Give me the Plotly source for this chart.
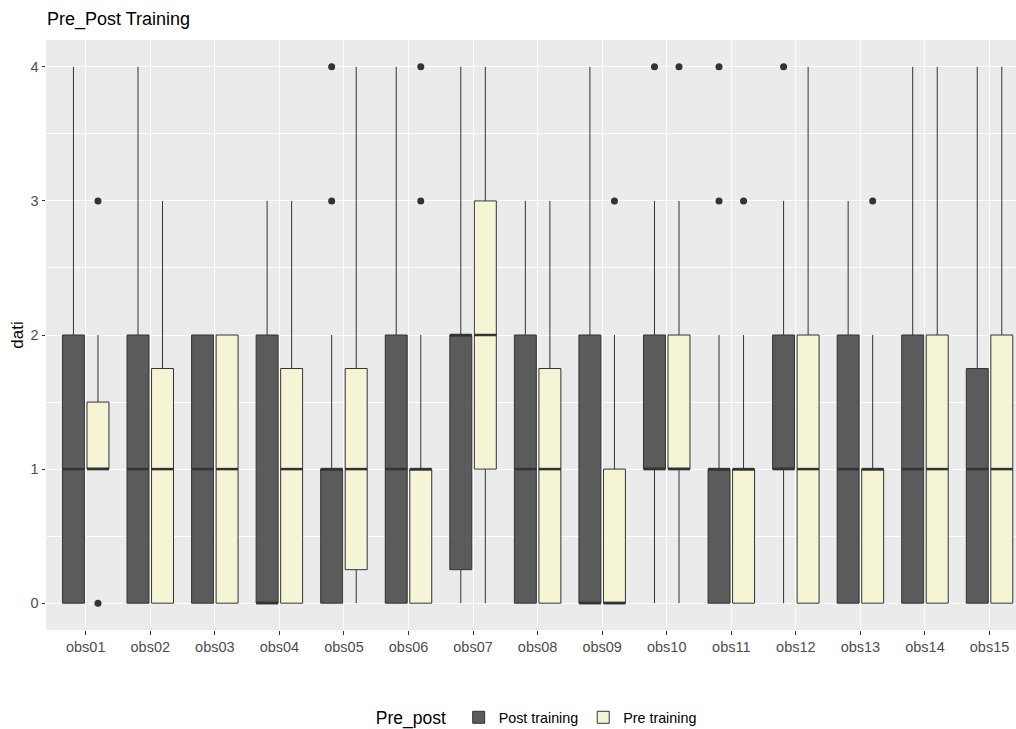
import plotly.graph_objects as go

categories = ["obs01", "obs02", "obs03", "obs04", "obs05", "obs06", "obs07", "obs08",
              "obs09", "obs10", "obs11", "obs12", "obs13", "obs14", "obs15"]

# Post training box statistics
post_low = [0, 0, 0, 0, 0, 0, 0, 0, 0, 0, 0, 0, 0, 0, 0]
post_q1 = [0, 0, 0, 0, 0, 0, 0.25, 0, 0, 1, 0, 1, 0, 0, 0]
post_med = [1, 1, 1, 0, 1, 1, 2, 1, 0, 1, 1, 1, 1, 1, 1]
post_q3 = [2, 2, 2, 2, 1, 2, 2, 2, 2, 2, 1, 2, 2, 2, 1.75]
post_high = [4, 4, 2, 3, 2, 4, 4, 3, 4, 3, 2, 3, 3, 4, 4]
post_out_cat = ["obs05", "obs05", "obs10", "obs11", "obs11", "obs12"]
post_out_val = [3, 4, 4, 3, 4, 4]

# Pre training box statistics
pre_low = [1, 0, 0, 0, 0, 0, 0, 0, 0, 0, 0, 0, 0, 0, 0]
pre_q1 = [1, 0, 0, 0, 0.25, 0, 1, 0, 0, 1, 0, 0, 0, 0, 0]
pre_med = [1, 1, 1, 1, 1, 1, 2, 1, 0, 1, 1, 1, 1, 1, 1]
pre_q3 = [1.5, 1.75, 2, 1.75, 1.75, 1, 3, 1.75, 1, 2, 1, 2, 1, 2, 2]
pre_high = [2, 3, 2, 3, 4, 2, 4, 3, 2, 3, 2, 4, 2, 4, 4]
pre_out_cat = ["obs01", "obs01", "obs06", "obs06", "obs09", "obs10", "obs11", "obs13"]
pre_out_val = [3, 0, 3, 4, 3, 4, 3, 3]

groups = [
    dict(name="Post training", fill="#5B5B5C", off=-0.19,
         low=post_low, q1=post_q1, med=post_med, q3=post_q3, high=post_high,
         oc=post_out_cat, ov=post_out_val),
    dict(name="Pre training", fill="#F5F5D5", off=0.19,
         low=pre_low, q1=pre_q1, med=pre_med, q3=pre_q3, high=pre_high,
         oc=pre_out_cat, ov=pre_out_val),
]

LINE = "#333333"
BW = 0.34
idx = {c: i for i, c in enumerate(categories)}

fig = go.Figure()
for g in groups:
    xs = [i + g["off"] for i in range(len(categories))]
    fig.add_trace(go.Box(
        x=xs, q1=g["q1"], median=g["med"], q3=g["q3"],
        lowerfence=g["low"], upperfence=g["high"],
        width=BW, whiskerwidth=0, boxpoints=False,
        fillcolor=g["fill"], line=dict(color=LINE, width=1),
        name=g["name"], hoverinfo="skip",
    ))
    mx, my = [], []
    for x, m in zip(xs, g["med"]):
        mx += [x - BW / 2, x + BW / 2, None]
        my += [m, m, None]
    fig.add_trace(go.Scatter(x=mx, y=my, mode="lines",
                             line=dict(color=LINE, width=2.5),
                             showlegend=False, hoverinfo="skip"))
    fig.add_trace(go.Scatter(
        x=[idx[c] + g["off"] for c in g["oc"]], y=g["ov"], mode="markers",
        marker=dict(color=LINE, size=7), showlegend=False, hoverinfo="skip"))

FONT = "Liberation Sans, Arial, sans-serif"
fig.update_layout(
    width=1016, height=729,
    margin=dict(l=46, r=0, t=40, b=99, autoexpand=False),
    paper_bgcolor="white", plot_bgcolor="#EBEBEB",
    boxmode="overlay",
    font=dict(family=FONT, color="#4D4D4D", size=14),
    title=dict(text="Pre_Post Training", x=0, xref="paper", xanchor="left",
               y=1, yref="container", yanchor="top", pad=dict(t=12, l=1),
               font=dict(size=18, color="black", family=FONT)),
    xaxis=dict(range=[-0.615, 14.41], tickmode="array",
               tickvals=list(range(len(categories))), ticktext=categories,
               showgrid=True, gridcolor="white", gridwidth=1.1, zeroline=False,
               ticks="outside", ticklen=3.5, tickcolor=LINE, tickwidth=1,
               tickfont=dict(size=14.5, color="#4D4D4D"), showline=False),
    yaxis=dict(range=[-0.2, 4.2], tickvals=[0, 1, 2, 3, 4],
               showgrid=True, gridcolor="white", gridwidth=1.1, zeroline=False,
               ticks="outside", ticklen=3.5, tickcolor=LINE, tickwidth=1,
               tickfont=dict(size=14.5, color="#4D4D4D"),
               minor=dict(tickvals=[-0.5, 0.5, 1.5, 2.5, 3.5], showgrid=True,
                          gridcolor="white", gridwidth=0.55, ticks=""),
               title=dict(text="dati", font=dict(size=17, color="black"), standoff=2)),
    legend=dict(orientation="h", x=0.507, xanchor="center",
                yref="container", y=1 - 718 / 729, yanchor="middle",
                title=dict(text="Pre_post ", font=dict(size=17.5, color="black")),
                font=dict(size=14.3, color="black"), itemwidth=30),
)

fig.write_html("out.html")
